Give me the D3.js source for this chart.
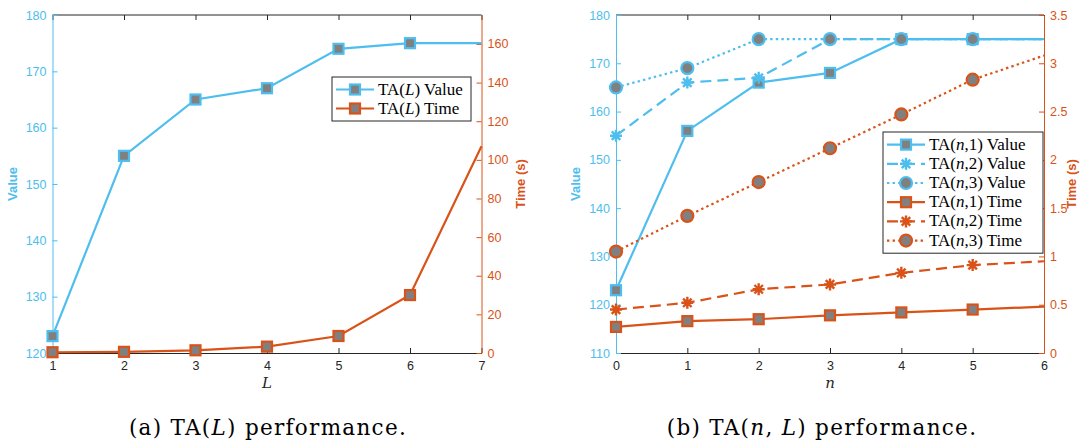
<!DOCTYPE html>
<html>
<head>
<meta charset="utf-8">
<script src="https://cdn.jsdelivr.net/npm/d3@7"></script>
<style>
  body { margin: 0; background: #fff; }
  svg { display: block; }
  .tick text { font-family: "Liberation Sans", Arial, sans-serif; font-size: 12.5px; }
</style>
</head>
<body>
<div id="chart"></div>
<script>
// panel (a)
var L = [1, 2, 3, 4, 5, 6, 7];
var taLValue = [123, 155, 165, 167, 174, 175, 175];
var taLTime = [0.4, 0.6, 1.4, 3.3, 8.8, 30, 107];

// panel (b)
var n = [0, 1, 2, 3, 4, 5, 6];
var taN1Value = [123, 156, 166, 168, 175, 175, 175];
var taN2Value = [155, 166, 167, 175, 175, 175, 175];
var taN3Value = [165, 169, 175, 175, 175, 175, 175];
var taN1Time = [0.27, 0.33, 0.35, 0.39, 0.42, 0.45, 0.48];
var taN2Time = [0.45, 0.52, 0.66, 0.71, 0.83, 0.91, 0.95];
var taN3Time = [1.05, 1.42, 1.77, 2.12, 2.47, 2.83, 3.08];

var leftTicksA = [120, 130, 140, 150, 160, 170, 180];
var rightTicksA = [0, 20, 40, 60, 80, 100, 120, 140, 160];
var leftTicksB = [110, 120, 130, 140, 150, 160, 170, 180];
var rightTicksB = [0, 0.5, 1, 1.5, 2, 2.5, 3, 3.5];

var blue = "#4dbeee", orange = "#d95319", grey = "#808080";

var svg = d3.select("#chart").append("svg")
  .attr("width", 1089)
  .attr("height", 442);

function marker(g, type, color, x, y) {
  if (type === "square") {
    g.append("rect")
      .attr("x", x - 5).attr("y", y - 5)
      .attr("width", 10).attr("height", 10)
      .attr("fill", grey).attr("stroke", color).attr("stroke-width", 2.2);
  } else if (type === "circle") {
    g.append("circle")
      .attr("cx", x).attr("cy", y).attr("r", 6)
      .attr("fill", grey).attr("stroke", color).attr("stroke-width", 2.2);
  } else {
    var s = 6, k = s * 0.707;
    g.append("path")
      .attr("d", "M" + (x - s) + "," + y + "L" + (x + s) + "," + y +
                 "M" + x + "," + (y - s) + "L" + x + "," + (y + s) +
                 "M" + (x - k) + "," + (y - k) + "L" + (x + k) + "," + (y + k) +
                 "M" + (x - k) + "," + (y + k) + "L" + (x + k) + "," + (y - k))
      .attr("stroke", color).attr("stroke-width", 2.4).attr("fill", "none");
  }
}

var dashes = { solid: null, dashed: "11,6", dotted: "2.4,3.2" };

function drawPanel(p) {
  var g = svg.append("g");
  var x = d3.scaleLinear().domain(p.xDomain).range([p.x0, p.x1]);
  var yL = d3.scaleLinear().domain(p.leftDomain).range([353, 15]);
  var yR = d3.scaleLinear().domain(p.rightDomain).range([353, 15]);

  // box top
  g.append("line").attr("x1", p.x0).attr("x2", p.x1).attr("y1", 15).attr("y2", 15)
    .attr("stroke", "#262626").attr("stroke-width", 1);
  var topAx = g.append("g").attr("transform", "translate(0,15)")
    .call(d3.axisBottom(x).tickValues(p.xTicks).tickSize(5).tickFormat(""));
  topAx.select(".domain").remove();
  topAx.selectAll("line").attr("stroke", "#262626");

  // bottom axis
  var bot = g.append("g").attr("transform", "translate(0,353)")
    .call(d3.axisBottom(x).tickValues(p.xTicks).tickSizeInner(-5).tickSizeOuter(0).tickPadding(8)
      .tickFormat(d3.format("d")));
  bot.select(".domain").attr("stroke", "#262626");
  bot.selectAll("line").attr("stroke", "#262626");
  bot.selectAll("text").attr("fill", "#262626");

  // left axis
  var la = g.append("g").attr("transform", "translate(" + p.x0 + ",0)")
    .call(d3.axisLeft(yL).tickValues(p.leftTicks).tickSizeInner(-5).tickSizeOuter(0).tickPadding(6));
  la.select(".domain").attr("stroke", blue);
  la.selectAll("line").attr("stroke", blue);
  la.selectAll("text").attr("fill", blue);

  // right axis
  var ra = g.append("g").attr("transform", "translate(" + p.x1 + ",0)")
    .call(d3.axisRight(yR).tickValues(p.rightTicks).tickSizeInner(-5).tickSizeOuter(0).tickPadding(6)
      .tickFormat(d3.format("~g")));
  ra.select(".domain").attr("stroke", orange);
  ra.selectAll("line").attr("stroke", orange);
  ra.selectAll("text").attr("fill", orange);

  // axis labels
  g.append("text")
    .attr("transform", "translate(" + (p.x0 - 36) + ",184) rotate(-90)")
    .attr("text-anchor", "middle")
    .style("font-family", "Liberation Sans, Arial, sans-serif")
    .style("font-size", "13px").style("font-weight", "bold")
    .attr("fill", blue).text("Value");
  g.append("text")
    .attr("transform", "translate(" + (p.x1 + p.rightLabelOff) + ",184) rotate(-90)")
    .attr("text-anchor", "middle")
    .style("font-family", "Liberation Sans, Arial, sans-serif")
    .style("font-size", "13px").style("font-weight", "bold")
    .attr("fill", orange).text("Time (s)");
  g.append("text")
    .attr("x", (p.x0 + p.x1) / 2).attr("y", 388)
    .attr("text-anchor", "middle")
    .style("font-family", "DejaVu Serif, serif")
    .style("font-size", "15px").style("font-style", "italic")
    .attr("fill", "#262626").text(p.xLabel);

  // series
  p.series.forEach(function(s) {
    var y = s.axis === "left" ? yL : yR;
    var line = d3.line().x(function(d, i) { return x(p.xs[i]); }).y(function(d) { return y(d); });
    g.append("path").datum(s.values)
      .attr("d", line)
      .attr("fill", "none")
      .attr("stroke", s.color)
      .attr("stroke-width", 2.2)
      .attr("stroke-dasharray", dashes[s.dash]);
    s.values.forEach(function(d, i) {
      if (i < s.values.length - 1) marker(g, s.marker, s.color, x(p.xs[i]), y(d));
    });
  });

  // legend
  var lg = p.legend;
  var rows = p.series.length;
  g.append("rect")
    .attr("x", lg.x).attr("y", lg.y)
    .attr("width", lg.w).attr("height", rows * lg.row + 6)
    .attr("fill", "#fff").attr("stroke", "#262626").attr("stroke-width", 1);
  p.series.forEach(function(s, i) {
    var cy = lg.y + 3 + lg.row * (i + 0.5);
    g.append("line")
      .attr("x1", lg.x + 4).attr("x2", lg.x + 42)
      .attr("y1", cy).attr("y2", cy)
      .attr("stroke", s.color).attr("stroke-width", 2.2)
      .attr("stroke-dasharray", dashes[s.dash]);
    marker(g, s.marker, s.color, lg.x + 23, cy);
    var t = g.append("text")
      .attr("x", lg.x + 46).attr("y", cy + 5)
      .style("font-family", "Liberation Serif, serif")
      .style("font-size", "17px")
      .attr("fill", "#000");
    t.append("tspan").text("TA(");
    t.append("tspan").style("font-style", "italic").text(s.arg);
    if (s.arg2) t.append("tspan").text(s.arg2);
    t.append("tspan").text(") " + s.kind);
  });

  // caption
  var c = svg.append("text")
    .attr("x", p.captionX).attr("y", 435)
    .attr("text-anchor", "middle")
    .style("font-family", "DejaVu Serif, serif")
    .style("font-size", "21.5px")
    .style("letter-spacing", "1.3px")
    .attr("fill", "#000");
  c.append("tspan").text(p.caption[0]);
  c.append("tspan").style("font-style", "italic").text(p.caption[1]);
  c.append("tspan").text(p.caption[2]);
  if (p.caption.length > 3) {
    c.append("tspan").style("font-style", "italic").text(p.caption[3]);
    c.append("tspan").text(p.caption[4]);
  }
}

drawPanel({
  xs: L, xDomain: [1, 7], xTicks: L, x0: 52.5, x1: 481.5,
  leftDomain: [120, 180], rightDomain: [0, 175],
  leftTicks: leftTicksA, rightTicks: rightTicksA, rightLabelOff: 43,
  xLabel: "L",
  series: [
    { values: taLValue, axis: "left", color: blue, dash: "solid", marker: "square", arg: "L", kind: "Value" },
    { values: taLTime, axis: "right", color: orange, dash: "solid", marker: "square", arg: "L", kind: "Time" }
  ],
  legend: { x: 332, y: 77, w: 139, row: 19 },
  captionX: 268, caption: ["(a) TA(", "L", ") performance."]
});

drawPanel({
  xs: n, xDomain: [0, 6], xTicks: n, x0: 616, x1: 1044,
  leftDomain: [110, 180], rightDomain: [0, 3.5],
  leftTicks: leftTicksB, rightTicks: rightTicksB, rightLabelOff: 32,
  xLabel: "n",
  series: [
    { values: taN1Value, axis: "left", color: blue, dash: "solid", marker: "square", arg: "n", arg2: ",1", kind: "Value" },
    { values: taN2Value, axis: "left", color: blue, dash: "dashed", marker: "star", arg: "n", arg2: ",2", kind: "Value" },
    { values: taN3Value, axis: "left", color: blue, dash: "dotted", marker: "circle", arg: "n", arg2: ",3", kind: "Value" },
    { values: taN1Time, axis: "right", color: orange, dash: "solid", marker: "square", arg: "n", arg2: ",1", kind: "Time" },
    { values: taN2Time, axis: "right", color: orange, dash: "dashed", marker: "star", arg: "n", arg2: ",2", kind: "Time" },
    { values: taN3Time, axis: "right", color: orange, dash: "dotted", marker: "circle", arg: "n", arg2: ",3", kind: "Time" }
  ],
  legend: { x: 883, y: 132, w: 160, row: 19.2 },
  captionX: 822, caption: ["(b) TA(", "n", ", ", "L", ") performance."]
});
</script>
</body>
</html>
